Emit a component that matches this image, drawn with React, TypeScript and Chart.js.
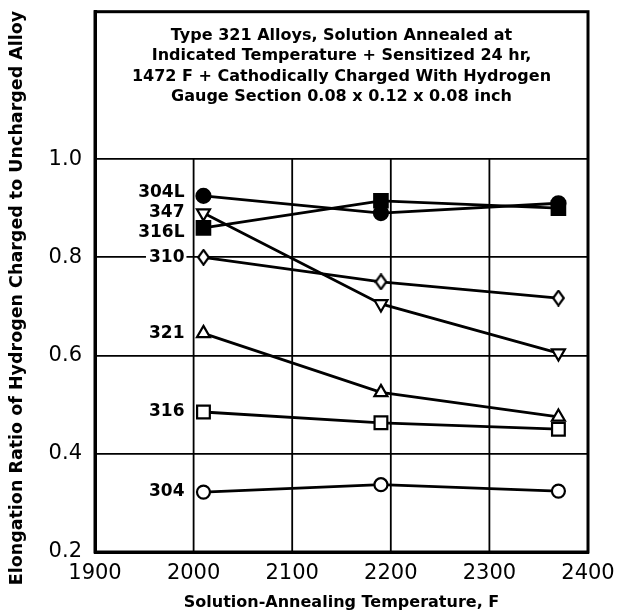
import React, { useEffect, useRef } from 'react';
import { Chart, registerables } from 'chart.js';

Chart.register(...registerables);

// ---- data ----
const temperatures = [2010, 2190, 2370];
const alloy304L = [0.925, 0.89, 0.91];
const alloy347 = [0.89, 0.705, 0.605];
const alloy316L = [0.86, 0.915, 0.9];
const alloy310 = [0.8, 0.75, 0.717];
const alloy321 = [0.645, 0.525, 0.475];
const alloy316 = [0.485, 0.463, 0.45];
const alloy304 = [0.322, 0.337, 0.324];

const xTickValues = [1900, 2000, 2100, 2200, 2300, 2400];
const yTickValues = [0.2, 0.4, 0.6, 0.8, 1.0];

const titleLines = [
  'Type 321 Alloys, Solution Annealed at',
  'Indicated Temperature + Sensitized 24 hr,',
  '1472 F + Cathodically Charged With Hydrogen',
  'Gauge Section 0.08 x 0.12 x 0.08 inch',
];
const xTitle = 'Solution-Annealing Temperature, F';
const yTitle = 'Elongation Ratio of Hydrogen Charged to Uncharged Alloy';

const BOLD = '"DejaVu Sans", "Liberation Sans", Arial, sans-serif';

function makeDiamond(): HTMLCanvasElement {
  const c = document.createElement('canvas');
  c.width = 13;
  c.height = 17;
  const g = c.getContext('2d')!;
  g.beginPath();
  g.moveTo(6.5, 1.2);
  g.lineTo(11.8, 8.5);
  g.lineTo(6.5, 15.8);
  g.lineTo(1.2, 8.5);
  g.closePath();
  g.fillStyle = '#fff';
  g.fill();
  g.lineWidth = 2.2;
  g.strokeStyle = '#000';
  g.stroke();
  return c;
}

export default function App() {
  const ref = useRef<HTMLCanvasElement | null>(null);

  useEffect(() => {
    document.body.style.margin = '0';
    const canvas = ref.current!;
    const diamond = makeDiamond();

    const series = [
      { label: '304L', data: alloy304L, style: 'circle', fill: true, r: 7, rot: 0, dy: -3 },
      { label: '347', data: alloy347, style: 'triangle', fill: false, r: 7.5, rot: 180, dy: -1 },
      { label: '316L', data: alloy316L, style: 'rect', fill: true, r: 9.5, rot: 0, dy: 5 },
      { label: '310', data: alloy310, style: diamond, fill: false, r: 7, rot: 0, dy: 0 },
      { label: '321', data: alloy321, style: 'triangle', fill: false, r: 7.5, rot: 0, dy: 0 },
      { label: '316', data: alloy316, style: 'rect', fill: false, r: 9, rot: 0, dy: 0 },
      { label: '304', data: alloy304, style: 'circle', fill: false, r: 6.5, rot: 0, dy: 0 },
    ];

    const datasets = series.map((s) => ({
      label: s.label,
      data: s.data.map((v, i) => ({ x: temperatures[i], y: v })),
      borderColor: '#000',
      borderWidth: 2.8,
      pointStyle: s.style as any,
      pointRadius: s.r,
      pointRotation: s.rot,
      pointBackgroundColor: s.fill ? '#000' : '#fff',
      pointBorderColor: '#000',
      pointBorderWidth: 2.2,
      fill: false,
      tension: 0,
      dy: s.dy,
    }));

    const decor = {
      id: 'decor',
      beforeDatasetsDraw(chart: any) {
        const { ctx, chartArea, scales } = chart;
        const yTop = scales.y.getPixelForValue(1.0);
        ctx.save();
        ctx.strokeStyle = '#000';
        ctx.lineWidth = 1.8;
        xTickValues.slice(1, -1).forEach((v) => {
          const x = scales.x.getPixelForValue(v);
          ctx.beginPath();
          ctx.moveTo(x, yTop);
          ctx.lineTo(x, chartArea.bottom);
          ctx.stroke();
        });
        ctx.restore();
      },
      afterDraw(chart: any) {
        const { ctx, chartArea } = chart;
        ctx.save();
        // frame
        ctx.strokeStyle = '#000';
        ctx.lineWidth = 3;
        ctx.strokeRect(chartArea.left, chartArea.top, chartArea.right - chartArea.left, chartArea.bottom - chartArea.top);
        // title inside the frame
        ctx.fillStyle = '#000';
        ctx.font = `bold 16px ${BOLD}`;
        ctx.textAlign = 'center';
        ctx.textBaseline = 'middle';
        const cx = (chartArea.left + chartArea.right) / 2;
        titleLines.forEach((t, i) => ctx.fillText(t, cx, chartArea.top + 24 + i * 20.5));
        // series labels
        ctx.font = `bold 17px ${BOLD}`;
        ctx.textAlign = 'right';
        chart.data.datasets.forEach((ds: any, i: number) => {
          const pt = chart.getDatasetMeta(i).data[0];
          const x = pt.x - 19;
          const y = pt.y + ds.dy;
          const w = ctx.measureText(ds.label).width;
          ctx.fillStyle = '#fff';
          ctx.fillRect(x - w - 3, y - 8, w + 5, 16);
          ctx.fillStyle = '#000';
          ctx.fillText(ds.label, x, y);
        });
        // y axis title
        ctx.translate(17, 298);
        ctx.rotate(-Math.PI / 2);
        ctx.textAlign = 'center';
        ctx.font = `bold 17.5px ${BOLD}`;
        ctx.fillText(yTitle, 0, 0);
        ctx.restore();
      },
    };

    const chart = new Chart(canvas, {
      type: 'line',
      data: { datasets: datasets as any },
      options: {
        animation: false,
        responsive: false,
        devicePixelRatio: 1,
        layout: { padding: { top: 10, right: 29, left: 0, bottom: 0 } },
        plugins: { legend: { display: false }, tooltip: { enabled: false }, title: { display: false } },
        scales: {
          x: {
            type: 'linear',
            min: 1900,
            max: 2400,
            afterBuildTicks: (scale: any) => {
              scale.ticks = xTickValues.map((v) => ({ value: v }));
            },
            afterFit: (scale: any) => {
              scale.height = 62;
              scale.paddingLeft = 0;
              scale.paddingRight = 0;
            },
            grid: { display: false, drawTicks: false },
            border: { display: true, color: '#000', width: 3 },
            ticks: {
              color: '#000',
              padding: 9,
              font: { family: '"DejaVu Sans", sans-serif', size: 21 },
              callback: (v: any) => String(v),
              maxRotation: 0,
            },
            title: {
              display: true,
              text: xTitle,
              color: '#000',
              font: { family: BOLD, size: 16, weight: 'bold' },
              padding: { top: 0, bottom: 2 },
            },
          },
          y: {
            type: 'linear',
            min: 0.2,
            max: 1.3,
            afterBuildTicks: (scale: any) => {
              scale.ticks = yTickValues.map((v) => ({ value: v }));
            },
            afterFit: (scale: any) => {
              scale.width = 95;
              scale.paddingTop = 0;
              scale.paddingBottom = 0;
            },
            grid: { display: true, color: '#000', lineWidth: 1.8, drawTicks: false },
            border: { display: true, color: '#000', width: 3 },
            ticks: {
              color: '#000',
              padding: 13,
              font: { family: '"DejaVu Sans", sans-serif', size: 21 },
              callback: (v: any) => Number(v).toFixed(1),
            },
          },
        },
      },
      plugins: [decor],
    });

    return () => chart.destroy();
  }, []);

  return (
    <div style={{ width: 617, height: 614 }}>
      <canvas ref={ref} width={617} height={614} />
    </div>
  );
}
